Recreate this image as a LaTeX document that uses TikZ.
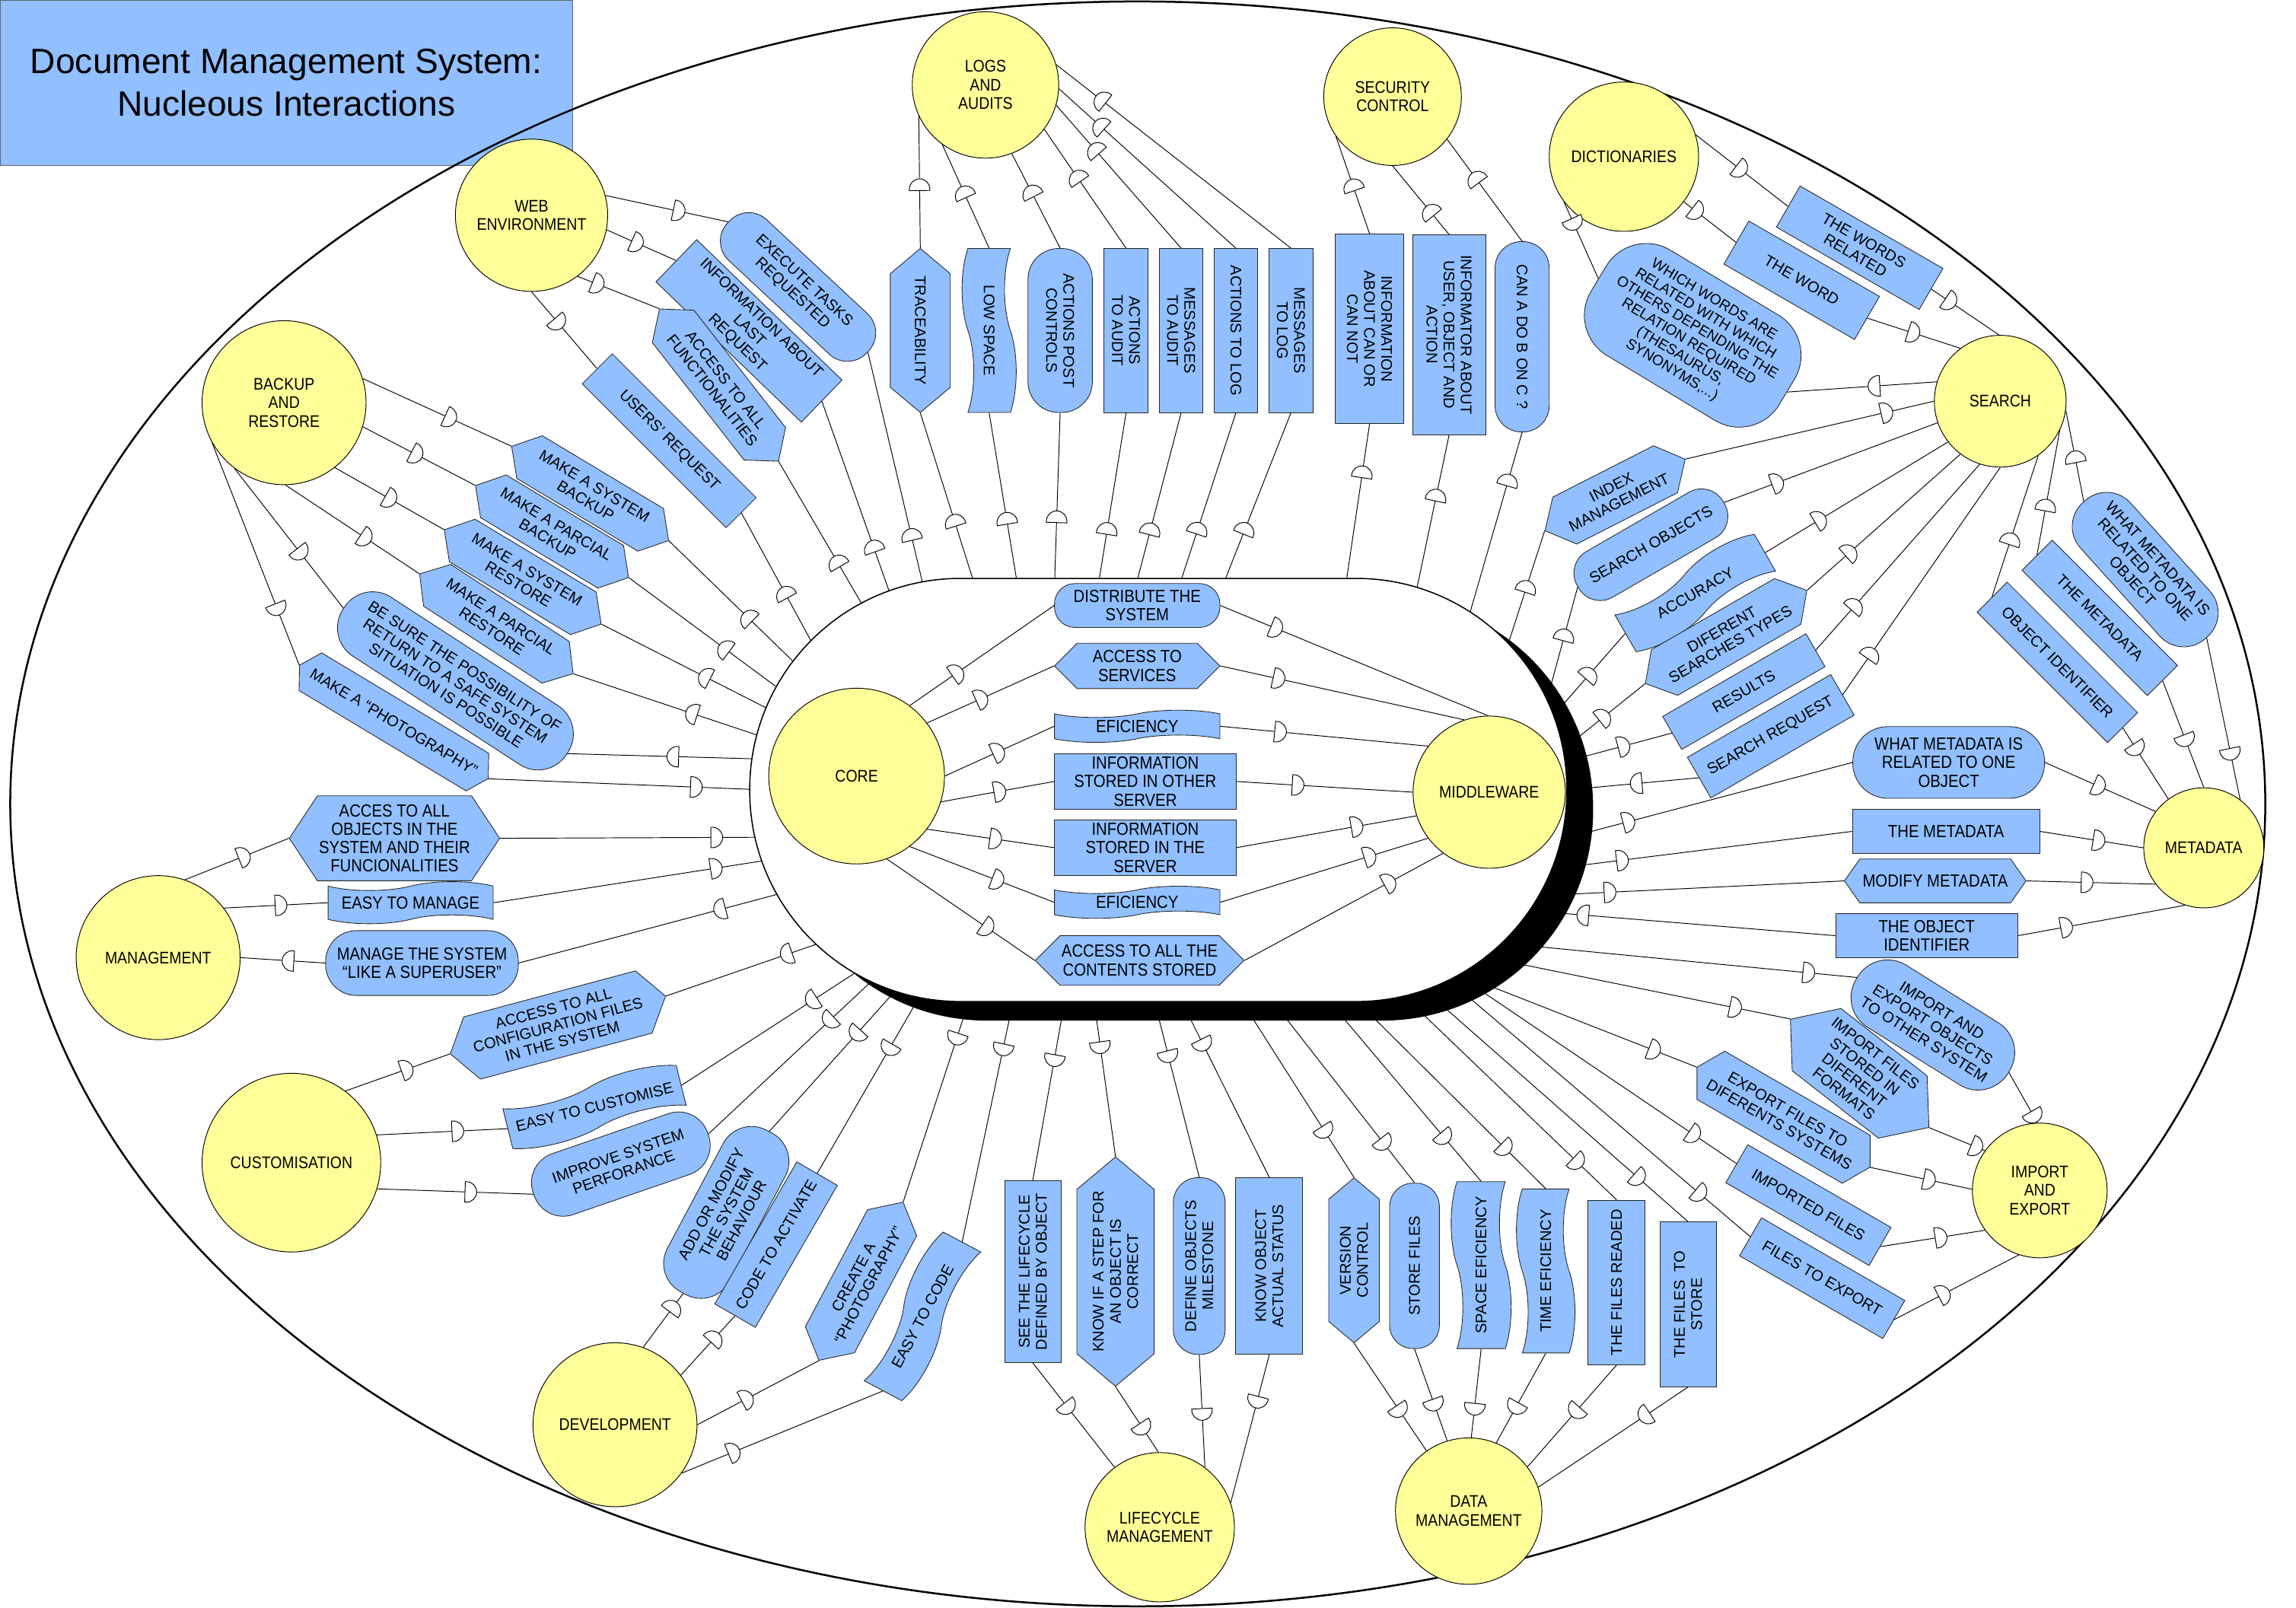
\documentclass[tikz,border=0pt]{standalone}
\usepackage{fontspec}
\setmainfont{Liberation Sans}
\newfontfamily\nar[FakeStretch=0.88]{Liberation Sans}
\usetikzlibrary{shapes.symbols,shapes.misc,decorations.markings,calc}
\definecolor{bcol}{RGB}{145,191,255}
\definecolor{ycol}{RGB}{255,255,153}
\newcommand\dfwd{\draw[fill=white,line width=0.5pt] (-4pt,-7pt) -- (-4pt,7pt) -- (-3pt,7pt) arc[start angle=90,end angle=-90,radius=7pt] -- cycle;}
\newcommand\dbwd{\draw[fill=white,line width=0.5pt] (4pt,-7pt) -- (4pt,7pt) -- (3pt,7pt) arc[start angle=90,end angle=270,radius=7pt] -- cycle;}
\newcommand\tost[3]{\draw[cn,#3] (#1) -- ($(#1)!1.15!(#2)$);}
\tikzset{
  yc/.style={circle, draw=black, line width=0.5pt, fill=ycol, inner sep=0pt, align=center, font=\nar\fontsize{11.5}{12.7}\selectfont},
  bx/.style={draw=black!85, line width=0.45pt, fill=bcol, inner sep=1pt, align=center, font=\fontsize{10.5}{11.7}\selectfont},
  hf/.style={font=\nar\fontsize{12}{12.6}\selectfont},
  sz/.style 2 args={minimum width=#1pt, minimum height=#2pt},
  rectb/.style={bx, rectangle},
  rndb/.style={bx, rectangle, rounded corners=#1pt},
  hexb/.style={bx, signal, signal to=east and west, signal pointer angle=#1},
  hexb/.default=100,
  waveb/.style={bx, tape, tape bend height=#1pt},
  waveb/.default=5,
  cn/.style={line width=0.5pt, draw=black},
  dF/.style={postaction={decorate, decoration={markings, mark=at position #1 with {\dfwd}}}},
  dB/.style={postaction={decorate, decoration={markings, mark=at position #1 with {\dbwd}}}},
}
\begin{document}
\begin{tikzpicture}[x=1pt,y=-1pt]
\useasboundingbox (0,0) rectangle (1568,1098);
% title
\node[fill=bcol, draw=black!60, line width=0.6pt, minimum width=391pt, minimum height=113pt, inner sep=0pt, align=center, font=\fontsize{24}{29}\selectfont] (title) at (195.5,56.5) {Document Management System:\\Nucleous Interactions};
% big ellipse
\draw[line width=1.3pt] (777,549) ellipse [x radius=770, y radius=548];

% peripheral circles
\node[yc, minimum size=104pt] (web) at (363,147) {WEB\\ENVIRONMENT};
\node[yc, minimum size=100pt] (logs) at (673,58) {LOGS\\AND\\AUDITS};
\node[yc, minimum size=94pt] (sec) at (951,66) {SECURITY\\CONTROL};
\node[yc, minimum size=102pt] (dict) at (1109,107) {DICTIONARIES};
\node[yc, minimum size=90pt] (srch) at (1366,274) {SEARCH};
\node[yc, minimum size=82pt] (meta) at (1505,579) {METADATA};
\node[yc, minimum size=92pt] (imp) at (1393,813) {IMPORT\\AND\\EXPORT};
\node[yc, minimum size=100pt] (data) at (1003,1032) {DATA\\MANAGEMENT};
\node[yc, minimum size=102pt] (life) at (792,1043) {LIFECYCLE\\MANAGEMENT};
\node[yc, minimum size=112pt] (dev) at (420,973) {DEVELOPMENT};
\node[yc, minimum size=122pt] (cust) at (199,794) {CUSTOMISATION};
\node[yc, minimum size=112pt] (mgmt) at (108,654) {MANAGEMENT};
\node[yc, minimum size=112pt] (back) at (194,275) {BACKUP\\AND\\RESTORE};

% web boxes
\node[rndb=18, rotate=-43, sz={130}{38}] (w1) at (545,196) {EXECUTE TASKS\\REQUESTED};
\node[rectb, rotate=-44, sz={138}{40}] (w2) at (511.5,226) {INFORMATION ABOUT\\LAST\\REQUEST};
\node[hexb, rotate=-52, sz={132}{36}] (w3) at (491,263) {ACCESS TO ALL\\FUNCTIONALITIES};
\node[rectb, rotate=-45, sz={139}{29}] (w4) at (457,301) {USERS’ REQUEST};
% logs boxes
\node[hexb, rotate=-90, sz={112}{41}] (l1) at (628.5,225.7) {TRACEABILITY};
\node[waveb=8, rotate=-90, sz={112}{37}] (l2) at (675.5,225.7) {LOW SPACE};
\node[rndb=21, rotate=-90, sz={112}{44}] (l3) at (724,225.7) {ACTIONS POST\\CONTROLS};
\node[rectb, rotate=-90, sz={112}{30}] (l4) at (769,225.7) {ACTIONS\\TO AUDIT};
\node[rectb, rotate=-90, sz={112}{30}] (l5) at (806.6,225.7) {MESSAGES\\TO AUDIT};
\node[rectb, rotate=-90, sz={112}{30}] (l6) at (844,225.7) {ACTIONS TO LOG};
\node[rectb, rotate=-90, sz={112}{30}] (l7) at (881.6,225.7) {MESSAGES\\TO LOG};
% security boxes
\node[rectb, rotate=-90, sz={129.5}{46.6}] (s1) at (935.3,224.6) {INFORMATION\\ABOUT CAN OR\\CAN NOT};
\node[rectb, rotate=-90, sz={136.5}{50}] (s2) at (989.6,228.6) {INFORMATOR ABOUT\\USER, OBJECT AND\\ACTION};
\node[rndb=18, rotate=-90, sz={130}{37}] (s3) at (1039.5,230) {CAN A DO B ON C ?};
% dictionaries boxes
\node[rectb, rotate=-30, sz={112.6}{32.4}] (d1) at (1270,169.2) {THE WORDS\\RELATED};
\node[rectb, rotate=-30, sz={103}{34}] (d2) at (1230.4,191.4) {THE WORD};
\node[rndb=32, rotate=-31, sz={150}{84}, font=\fontsize{10}{11.2}\selectfont] (d3) at (1156,229) {WHICH WORDS ARE\\RELATED WITH WHICH\\OTHERS DEPENDING THE\\RELATION REQUIRED\\(THESAURUS,\\SYNONYMS,...)};
% search boxes
\node[hexb, rotate=27, sz={102}{36}] (r1) at (1103,338) {INDEX\\MANAGEMENT};
\node[rndb=17, rotate=30, sz={115}{36}] (r2) at (1127.4,372) {SEARCH OBJECTS};
\node[waveb=9, rotate=30, sz={110}{38}] (r3) at (1157.7,405) {ACCURACY};
\node[hexb, rotate=30, sz={112}{36}] (r4) at (1178.8,435) {DIFERENT\\SEARCHES TYPES};
\node[rectb, rotate=30, sz={113}{26}] (r5) at (1190.9,472.3) {RESULTS};
\node[rectb, rotate=30, sz={113}{32}] (r6) at (1209.3,502.8) {SEARCH REQUEST};
% metadata boxes
\node[rndb=22, rotate=-48, sz={125}{46}] (m1) at (1465,389) {WHAT METADATA IS\\RELATED TO ONE\\OBJECT};
\node[rectb, rotate=-45, sz={121}{29}] (m2) at (1434,422) {THE METADATA};
\node[rectb, rotate=-45, sz={126}{29}] (m3) at (1405,452.4) {OBJECT IDENTIFIER};
\node[rndb=24, hf, sz={131}{49}] (m4) at (1330.8,520.7) {WHAT METADATA IS\\RELATED TO ONE\\OBJECT};
\node[rectb, hf, sz={128}{30}] (m5) at (1329,567.8) {THE METADATA};
\node[hexb=110, hf, sz={124}{30}] (m6) at (1321.6,601.6) {MODIFY METADATA};
\node[rectb, hf, sz={124.4}{30.4}] (m7) at (1315.8,639) {THE OBJECT\\IDENTIFIER};
% import boxes
\node[rndb=24, rotate=-32, sz={122}{50}] (i1) at (1320,700) {IMPORT AND\\EXPORT OBJECTS\\TO OTHER SYSTEM};
\node[hexb, rotate=-38, sz={104}{54}] (i2) at (1270,733) {IMPORT FILES\\STORED IN\\DIFERENT\\FORMATS};
\node[hexb=120, rotate=-30, sz={136}{38}] (i3) at (1218,763) {EXPORT FILES TO\\DIFERENTS SYSTEMS};
\node[rectb, rotate=-30, sz={113}{30}] (i4) at (1235,823) {IMPORTED FILES};
\node[rectb, rotate=-30, sz={113}{30}] (i5) at (1244.4,872.9) {FILES TO EXPORT};
% data boxes
\node[hexb, rotate=90, sz={112.6}{34.5}] (dm1) at (924.7,860.7) {VERSION\\CONTROL};
\node[rndb=16, rotate=90, sz={113}{34}] (dm2) at (966,864.5) {STORE FILES};
\node[waveb=8, rotate=90, sz={114}{41}] (dm3) at (1011.5,864) {SPACE EFICIENCY};
\node[waveb=8, rotate=90, sz={112}{40}] (dm4) at (1055.6,868) {TIME EFICIENCY};
\node[rectb, rotate=90, sz={112.4}{39}] (dm5) at (1104,875.8) {THE FILES READED};
\node[rectb, rotate=90, sz={112.5}{38.3}] (dm6) at (1152.8,890.8) {THE FILES\ \ TO\\STORE};
% lifecycle boxes
\node[rectb, rotate=90, sz={124.3}{38.6}] (lc1) at (705.3,868.4) {SEE THE LIFECYCLE\\DEFINED BY OBJECT};
\node[hexb, rotate=90, sz={137.3}{52.8}] (lc2) at (761.8,868.4) {KNOW IF A STEP FOR\\AN OBJECT IS\\CORRECT};
\node[rndb=17, rotate=90, sz={120.8}{35.4}] (lc3) at (819,864.6) {DEFINE OBJECTS\\MILESTONE};
\node[rectb, rotate=90, sz={120.8}{45.7}] (lc4) at (866.8,864.6) {KNOW OBJECT\\ACTUAL STATUS};
% development boxes
\node[rndb=22, rotate=62, sz={125}{48}] (v1) at (496,828) {ADD OR MODIFY\\THE SYSTEM\\BEHAVIOUR};
\node[rectb, rotate=60, sz={112}{32}] (v2) at (530,850) {CODE TO ACTIVATE};
\node[hexb, rotate=62, sz={110}{38}] (v3) at (588,875) {CREATE A\\“PHOTOGRAPHY”};
\node[waveb=9, rotate=62, sz={115}{38}] (v4) at (630,899) {EASY TO CODE};
% customisation boxes
\node[hexb=110, rotate=15, sz={134}{44}] (u1) at (381,700) {ACCESS TO ALL\\CONFIGURATION FILES\\IN THE SYSTEM};
\node[waveb=8, rotate=14, sz={122}{36}] (u2) at (406,756) {EASY TO CUSTOMISE};
\node[rndb=21, rotate=19, sz={126}{44}] (u3) at (424,795) {IMPROVE SYSTEM\\PERFORANCE};
% management boxes
\node[hexb=113, hf, sz={133}{58}] (g1) at (269.4,572.5) {ACCES TO ALL\\OBJECTS IN THE\\SYSTEM AND THEIR\\FUNCIONALITIES};
\node[waveb=6, hf, sz={112.7}{28.7}] (g2) at (280.4,616.5) {EASY TO MANAGE};
\node[rndb=21, hf, sz={131.6}{44.3}] (g3) at (288.2,657.7) {MANAGE THE SYSTEM\\“LIKE A SUPERUSER”};
% backup boxes
\node[hexb, rotate=-31, sz={125}{34}] (k1) at (403,337) {MAKE A SYSTEM\\BACKUP};
\node[hexb, rotate=-31, sz={122}{34}] (k2) at (377,363) {MAKE A PARCIAL\\BACKUP};
\node[hexb, rotate=-31, sz={125}{34}] (k3) at (357,394) {MAKE A SYSTEM\\RESTORE};
\node[hexb, rotate=-33, sz={125}{34}] (k4) at (339,426) {MAKE A PARCIAL\\RESTORE};
\node[rndb=23, rotate=-33, sz={182}{48}] (k5) at (311,465) {BE SURE THE POSSIBILITY OF\\RETURN TO A SAFE SYSTEM\\SITUATION IS POSSIBLE};
\node[hexb=120, rotate=-31, sz={142}{30}] (k6) at (269,493) {MAKE A “PHOTOGRAPHY”};

% stadium end points
\coordinate (e-w1) at (630,398); \coordinate (e-w2) at (607.6,404.8); \coordinate (e-w3) at (588.7,412.7); \coordinate (e-w4) at (554.9,439.6);
\coordinate (e-l1) at (664.2,394.9); \coordinate (e-l2) at (694.1,394.9); \coordinate (e-l3) at (720.3,394.9); \coordinate (e-l4) at (750.8,394.9);
\coordinate (e-l5) at (777,395); \coordinate (e-l6) at (807,395); \coordinate (e-l7) at (837,395);
\coordinate (e-s1) at (919.7,395); \coordinate (e-s2) at (968,400); \coordinate (e-s3) at (1004,418);
\coordinate (e-r1) at (1031.4,435.3); \coordinate (e-r2) at (1060.2,464.1); \coordinate (e-r3) at (1070.2,478);
\coordinate (e-r4) at (1081.1,500.9); \coordinate (e-r5) at (1085.1,515.8); \coordinate (e-r6) at (1089.1,537.7);
\coordinate (e-m4) at (1088,567.5); \coordinate (e-m5) at (1084,590.4); \coordinate (e-m6) at (1075.2,610.5); \coordinate (e-m7) at (1070,624);
\coordinate (e-i1) at (1045,646); \coordinate (e-i2) at (1041,659); \coordinate (e-i3) at (1019,674); \coordinate (e-i4) at (1012,677); \coordinate (e-i5) at (1003,681);
\coordinate (e-dm1) at (852,690); \coordinate (e-dm2) at (874,690); \coordinate (e-dm3) at (913,690);
\coordinate (e-dm4) at (933,690); \coordinate (e-dm5) at (967,688); \coordinate (e-dm6) at (983,685);
\coordinate (e-lc1) at (726,690); \coordinate (e-lc2) at (748,690); \coordinate (e-lc3) at (790,690); \coordinate (e-lc4) at (810,690);
\coordinate (e-v1) at (612,676); \coordinate (e-v2) at (626,684); \coordinate (e-v3) at (659.6,690); \coordinate (e-v4) at (691,688);
\coordinate (e-u1) at (560,644); \coordinate (e-u2) at (580,667); \coordinate (e-u3) at (590,675);
\coordinate (e-g1) at (516.8,571.8); \coordinate (e-g2) at (522.8,587.6); \coordinate (e-g3) at (530,611);
\coordinate (e-k1) at (543,453); \coordinate (e-k2) at (532,470.4); \coordinate (e-k3) at (525,484.3);
\coordinate (e-k4) at (518,502.3); \coordinate (e-k5) at (514,518.2); \coordinate (e-k6) at (513.4,539.1);

% web connectors
\draw[cn,dF=0.6] (web.15) -- (w1.west);
\draw[cn,dF=0.44] (web.-11) -- (w2.west);
\draw[cn,dF=0.25] (web.-53) -- (w3.west);
\draw[cn,dF=0.41] (web.-90) -- (w4.west);
\tost{w1.east}{e-w1}{dB=128pt}
\tost{w2.east}{e-w2}{dB=105pt}
\tost{w3.east}{e-w3}{dB=79pt}
\tost{w4.east}{e-w4}{dB=62pt}
% logs connectors
\draw[cn,dB=0.52] (logs.205) -- (l1.west);
\draw[cn,dB=0.46] (logs.234) -- (l2.west);
\draw[cn,dB=0.40] (logs.-69) -- (l3.west);
\draw[cn,dB=0.40] (logs.-37) -- (l4.west);
\draw[cn,dB=0.31] (logs.-16) -- (l5.west);
\draw[cn,dB=0.23] (logs.-3) -- (l6.west);
\draw[cn,dB=0.19] (logs.16) -- (l7.west);
\tost{l1.east}{e-l1}{dB=77pt}
\tost{l2.east}{e-l2}{dB=73pt}
\tost{l3.east}{e-l3}{dB=71pt}
\tost{l4.east}{e-l4}{dB=80pt}
\tost{l5.east}{e-l5}{dB=82pt}
\tost{l6.east}{e-l6}{dB=83pt}
\tost{l7.east}{e-l7}{dB=85pt}
% security connectors
\draw[cn,dB=0.5] (sec.215) -- (s1.west);
\draw[cn,dB=0.66] (sec.-90) -- (s2.west);
\draw[cn,dB=0.38] (sec.-38) -- (s3.west);
\tost{s1.east}{e-s1}{dB=33pt}
\tost{s2.east}{e-s2}{dB=42pt}
\tost{s3.east}{e-s3}{dB=34pt}
% dictionaries connectors
\draw[cn,dF=0.49] (dict.17) -- (d1.west);
\draw[cn,dF=0.25] (dict.-37) -- (d2.west);
\draw[cn,dF=0.29] (dict.217) -- (d3.west);
\draw[cn,dF=0.28] (d1.east) -- (srch.91);
\draw[cn,dF=0.5] (d2.east) -- (srch.127);
\draw[cn,dB=0.58] (d3.east) -- (srch.163);
% search connectors
\draw[cn,dB=0.19] (srch.180) -- (r1.east);
\draw[cn,dB=0.75] (srch.199) -- (r2.east);
\draw[cn,dB=0.70] (srch.218) -- (r3.east);
\draw[cn,dB=0.72] (srch.233) -- (r4.east);
\draw[cn,dB=0.76] (srch.252) -- (r5.east);
\draw[cn,dB=0.82] (srch.-90) -- (r6.east);
\tost{r1.west}{e-r1}{dB=40pt}
\tost{r2.west}{e-r2}{dB=34pt}
\tost{r3.west}{e-r3}{dB=37pt}
\tost{r4.west}{e-r4}{dB=36pt}
\tost{r5.west}{e-r5}{dB=34pt}
\tost{r6.west}{e-r6}{dF=43pt}
% metadata connectors
\draw[cn,dB=0.51] (srch.-8) -- (m1.west);
\draw[cn,dF=0.72] (m1.east) -- (meta.53);
\draw[cn,dB=0.6] (srch.-26) -- (m2.west);
\draw[cn,dB=0.59] (srch.-55) -- (m3.west);
\draw[cn,dF=0.56] (m2.east) -- (meta.90);
\draw[cn,dF=0.3] (m3.east) -- (meta.126);
\draw[cn,dB=0.51] (meta.143) -- (m4.east);
\draw[cn,dB=0.43] (meta.180) -- (m5.east);
\draw[cn,dB=0.53] (meta.217) -- (m6.east);
\draw[cn,dB=0.71] (meta.252) -- (m7.east);
\tost{m4.west}{e-m4}{dB=158pt}
\tost{m5.west}{e-m5}{dB=158pt}
\tost{m6.west}{e-m6}{dB=160pt}
\tost{m7.west}{e-m7}{dF=173pt}
% import connectors
\draw[cn,dF=0.88] (i1.east) -- (imp.92);
\draw[cn,dF=0.85] (i2.east) -- (imp.144);
\draw[cn,dF=0.58] (i3.east) -- (imp.179);
\draw[cn,dF=0.58] (i4.east) -- (imp.216);
\draw[cn,dF=0.4] (i5.east) -- (imp.252);
\tost{i1.west}{e-i1}{dB=33pt}
\tost{i2.west}{e-i2}{dB=38pt}
\tost{i3.west}{e-i3}{dB=31pt}
\tost{i4.west}{e-i4}{dB=35pt}
\tost{i5.west}{e-i5}{dB=45pt}
% data connectors
\draw[cn,dF=0.63] (dm1.west) -- (data.125);
\draw[cn,dF=0.61] (dm2.west) -- (data.107);
\draw[cn,dF=0.68] (dm3.west) -- (data.88);
\draw[cn,dF=0.61] (dm4.west) -- (data.68);
\draw[cn,dF=0.46] (dm5.west) -- (data.37);
\draw[cn,dF=0.29] (dm6.west) -- (data.19);
\tost{dm1.east}{e-dm1}{dB=37pt}
\tost{dm2.east}{e-dm2}{dB=34pt}
\tost{dm3.east}{e-dm3}{dB=39pt}
\tost{dm4.east}{e-dm4}{dB=39pt}
\tost{dm5.east}{e-dm5}{dB=37pt}
\tost{dm6.east}{e-dm6}{dB=45pt}
% lifecycle connectors
\draw[cn,dF=0.43] (lc1.west) -- (life.127);
\draw[cn,dF=0.64] (lc2.west) -- (life.91);
\draw[cn,dF=0.53] (lc3.west) -- (life.53);
\draw[cn,dF=0.32] (lc4.west) -- (life.19);
\tost{lc1.east}{e-lc1}{dB=83pt}
\tost{lc2.east}{e-lc2}{dB=75pt}
\tost{lc3.east}{e-lc3}{dB=85pt}
\tost{lc4.east}{e-lc4}{dB=101pt}
% development connectors
\draw[cn,dF=0.75] (dev.70) -- (v1.west);
\draw[cn,dF=0.63] (dev.37) -- (v2.west);
\draw[cn,dF=0.41] (dev.0) -- (v3.west);
\draw[cn,dF=0.26] (dev.-36) -- (v4.west);
\tost{v1.east}{e-v1}{dB=89pt}
\tost{v2.east}{e-v2}{dB=98pt}
\tost{v3.east}{e-v3}{dB=117pt}
\tost{v4.east}{e-v4}{dB=134pt}
% customisation connectors
\draw[cn,dF=0.59] (cust.53) -- (u1.west);
\draw[cn,dF=0.62] (cust.18) -- (u2.west);
\draw[cn,dF=0.6] (cust.-17) -- (u3.west);
\tost{u1.east}{e-u1}{dB=87pt}
\tost{u2.east}{e-u2}{dB=106pt}
\tost{u3.east}{e-u3}{dB=113pt}
% management connectors
\draw[cn,dF=0.57] (mgmt.71) -- (g1.west);
\draw[cn,dF=0.55] (mgmt.37) -- (g2.west);
\draw[cn,dB=0.56] (mgmt.0) -- (g3.west);
\tost{g1.east}{e-g1}{dF=148pt}
\tost{g2.east}{e-g2}{dF=154pt}
\tost{g3.east}{e-g3}{dB=142pt}
% backup connectors
\draw[cn,dF=0.59] (back.17) -- (k1.west);
\draw[cn,dF=0.48] (back.-17) -- (k2.west);
\draw[cn,dF=0.51] (back.-52) -- (k3.west);
\draw[cn,dF=0.6] (back.-89) -- (k4.west);
\draw[cn,dF=0.61] (back.233) -- (k5.west);
\draw[cn,dF=0.75] (back.209) -- (k6.west);
\tost{k1.east}{e-k1}{dB=75pt}
\tost{k2.east}{e-k2}{dB=81pt}
\tost{k3.east}{e-k3}{dB=79pt}
\tost{k4.east}{e-k4}{dB=85pt}
\tost{k5.east}{e-k5}{dB=72pt}
\tost{k6.east}{e-k6}{dF=142pt}

% central stadium with shadow
\fill[black, rounded corners=144pt] (530,408) rectangle (1088,697);
\draw[fill=white, line width=0.8pt, rounded corners=144pt] (512,395) rectangle (1070,684);

\node[yc, minimum size=120pt] (core) at (585,530) {CORE};
\node[yc, minimum size=104pt] (mid) at (1017,541) {MIDDLEWARE};
\node[rndb=14, hf, sz={113}{30}] (c1) at (776.6,413.5) {DISTRIBUTE THE\\SYSTEM};
\node[hexb=90, hf, sz={113}{31}] (c2) at (776.6,454.8) {ACCESS TO\\SERVICES};
\node[waveb, hf, sz={113}{22}] (c3) at (776.6,496) {EFICIENCY};
\node[rectb, hf, sz={124}{38}] (c4) at (782.1,533.7) {INFORMATION\\STORED IN OTHER\\SERVER};
\node[rectb, hf, sz={124}{38}] (c5) at (782.1,578.9) {INFORMATION\\STORED IN THE\\SERVER};
\node[waveb, hf, sz={113}{22}] (c6) at (776.6,616.2) {EFICIENCY};
\node[hexb=90, hf, sz={131}{34}] (c7) at (778.3,655.9) {ACCESS TO ALL THE\\CONTENTS STORED};

\draw[cn,dF=0.33] (core.53) -- (c1.west);
\draw[cn,dF=0.43] (core.37) -- (c2.west);
\draw[cn,dF=0.49] (core.0) -- (c3.west);
\draw[cn,dF=0.52] (core.-17) -- (c4.west);
\draw[cn,dF=0.54] (core.-37) -- (c5.west);
\draw[cn,dF=0.61] (core.-53) -- (c6.west);
\draw[cn,dF=0.68] (core.-70) -- (c7.west);
\draw[cn,dF=0.21] (c1.east) -- (mid.91);
\draw[cn,dF=0.24] (c2.east) -- (mid.109);
\draw[cn,dF=0.29] (c3.east) -- (mid.143);
\draw[cn,dF=0.35] (c4.east) -- (mid.180);
\draw[cn,dF=0.67] (c5.east) -- (mid.198);
\draw[cn,dF=0.72] (c6.east) -- (mid.217);
\draw[cn,dF=0.73] (c7.east) -- (mid.233);
\end{tikzpicture}
\end{document}
